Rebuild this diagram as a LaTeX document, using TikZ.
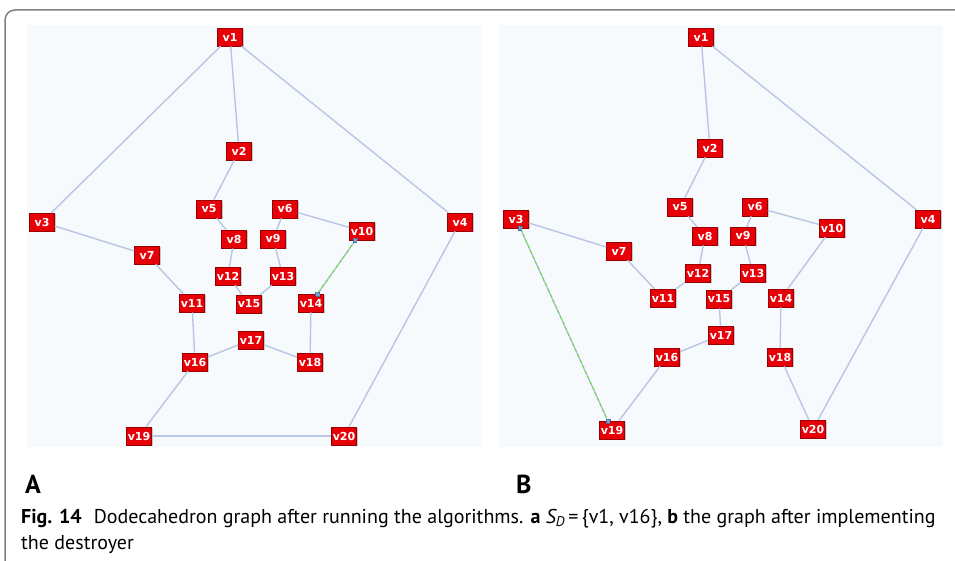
\documentclass[tikz,border=0pt]{standalone}
\usepackage{fontspec}
\setmainfont{PT Sans}
\newfontfamily\vxfont{DejaVu Sans}
\usetikzlibrary{calc, positioning, shadows}

\definecolor{panelbg}{RGB}{247,250,253}
\definecolor{framegray}{RGB}{128,128,128}
\definecolor{vxred}{RGB}{232,0,8}
\definecolor{vxborder}{RGB}{150,0,0}
\definecolor{edgeblue}{RGB}{184,198,228}
\definecolor{pickgreen}{RGB}{110,220,70}
\definecolor{handleblue}{RGB}{110,160,210}

\tikzset{
  vbox/.style={draw=vxborder, fill=vxred, line width=0.6pt,
    minimum width=25, minimum height=18, inner xsep=1.5pt, inner ysep=0pt,
    text=white, font=\vxfont\bfseries\fontsize{11}{11}\selectfont,
    drop shadow={shadow xshift=1pt, shadow yshift=-1pt, fill=black!35, opacity=0.6}},
  edge/.style={draw=edgeblue, line width=1.4pt},
  picked/.style={draw=pickgreen, line width=1pt, dash pattern=on 4pt off 2pt},
  handle/.style={draw=handleblue!70!black, fill=handleblue, line width=0.4pt,
    minimum size=4, inner sep=0pt},
  panellabel/.style={font=\bfseries\fontsize{26}{26}\selectfont, anchor=base west, inner sep=0pt}
}

\begin{document}
\begin{tikzpicture}[x=1pt, y=-1pt]
\useasboundingbox (0,0) rectangle (955,561);

% outer frame
\draw[framegray, line width=1.5pt, rounded corners=10] (5,561) -- (5,10) -- (955,10);

% the two panels
\fill[panelbg] (27,25) rectangle (481,447);
\fill[panelbg] (499,25) rectangle (943,447);

% panel A: vertices
\foreach \n/\x/\y in {1/230/37, 2/239/151, 3/42/222, 4/460/222, 5/209/209,
                      6/285/209, 7/147/255, 8/234/239, 9/273/239, 10/362/231,
                      11/192/303, 12/228/276, 13/283/276, 14/311/303, 15/249/304,
                      16/195/362, 17/251/340, 18/310/362, 19/139/436, 20/344/436}
    \node[vbox] (a\n) at (\x,\y) {v\n};

% panel A: edges
\foreach \i/\j in {1/3, 1/2, 1/4, 2/5, 3/7, 4/20, 5/8, 6/9, 6/10, 7/11,
                   8/12, 9/13, 11/16, 12/15, 13/15, 14/18, 16/17, 17/18,
                   16/19, 19/20, 10/14}
    \draw[edge] (a\i) -- (a\j);
\draw[picked] (a10) -- (a14) node[handle,pos=0] (ha1) {} node[handle,pos=1] (ha2) {};

% panel B: vertices
\foreach \n/\x/\y in {1/701/37, 2/710/148, 3/516/219, 4/928/219, 5/680/207,
                      6/755/207, 7/619/251, 8/705/236, 9/743/236, 10/832/228,
                      11/663/298, 12/698/273, 13/753/273, 14/781/298, 15/719/299,
                      16/667/357, 17/721/335, 18/780/357, 19/612/430, 20/813/429}
    \node[vbox] (b\n) at (\x,\y) {v\n};

% panel B: edges
\foreach \i/\j in {1/2, 1/4, 2/5, 3/7, 4/20, 5/8, 6/9, 6/10, 7/11, 8/12,
                   9/13, 10/14, 11/12, 13/15, 15/17, 14/18, 16/17, 16/19,
                   18/20, 3/19}
    \draw[edge] (b\i) -- (b\j);
\draw[picked] (b3) -- (b19) node[handle,pos=0] (hb1) {} node[handle,pos=1] (hb2) {};

% panel letters
\node[panellabel] (labA) at (25,493) {A};
\node[panellabel] (labB) at (516,493) {B};

% caption (base anchor sits on the last line)
\node[anchor=base west, align=left, inner sep=0pt,
      font=\fontsize{20}{26}\selectfont] (cap) at (21,549)
  {{\bfseries Fig. 14}\hspace{0.6em}Dodecahedron graph after running the algorithms.
   {\bfseries a} {\itshape S}\textsubscript{\itshape D}\,=\,\{v1, v16\}, {\bfseries b} the graph after implementing\\
   the destroyer};
\end{tikzpicture}
\end{document}
